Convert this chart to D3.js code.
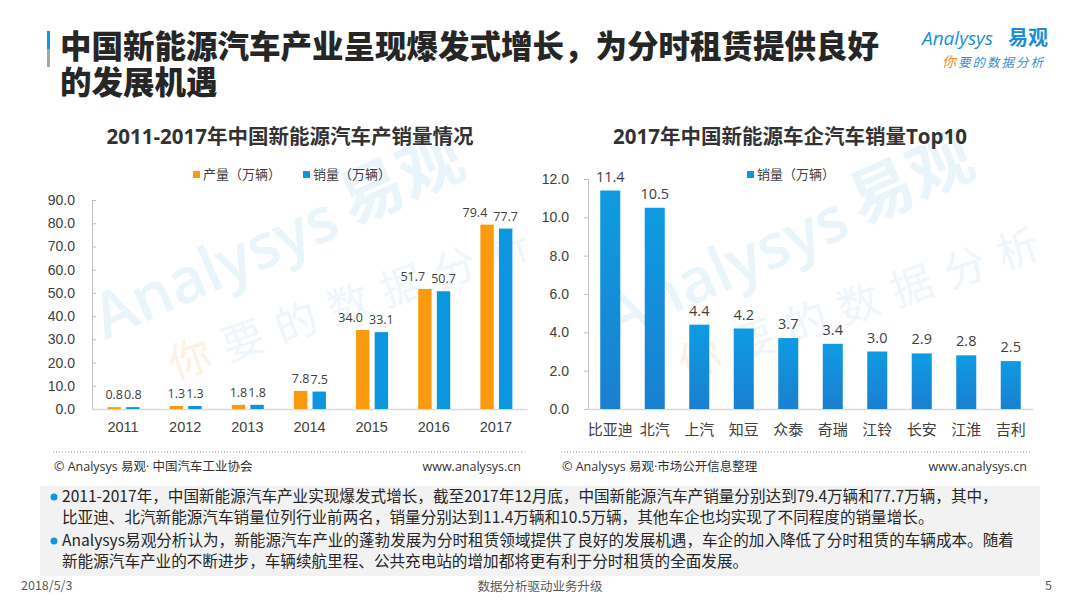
<!DOCTYPE html>
<html>
<head>
<meta charset="utf-8">
<script src="https://cdn.jsdelivr.net/npm/d3@7"></script>
<style>
  body { margin: 0; background: #fff; }
  svg { display: block; font-family: 'Open Sans', 'Noto Sans CJK SC', sans-serif; }
  .cjk { font-family: 'Noto Sans CJK SC', sans-serif; }
</style>
</head>
<body>
<div id="chart"></div>
<script>
// chart data
const years = ['2011', '2012', '2013', '2014', '2015', '2016', '2017'];
const production = [0.8, 1.3, 1.8, 7.8, 34.0, 51.7, 79.4];
const sales = [0.8, 1.3, 1.8, 7.5, 33.1, 50.7, 77.7];
const leftTicks = [0, 10, 20, 30, 40, 50, 60, 70, 80, 90];

const makers = ['比亚迪', '北汽', '上汽', '知豆', '众泰', '奇瑞', '江铃', '长安', '江淮', '吉利'];
const makerSales = [11.4, 10.5, 4.4, 4.2, 3.7, 3.4, 3.0, 2.9, 2.8, 2.5];
const rightTicks = [0, 2, 4, 6, 8, 10, 12];

const seriesNames = ['产量（万辆）', '销量（万辆）'];

const notes = [
  '2011-2017年，中国新能源汽车产业实现爆发式增长，截至2017年12月底，中国新能源汽车产销量分别达到79.4万辆和77.7万辆，其中，',
  '比亚迪、北汽新能源汽车销量位列行业前两名，销量分别达到11.4万辆和10.5万辆，其他车企也均实现了不同程度的销量增长。',
  'Analysys易观分析认为，新能源汽车产业的蓬勃发展为分时租赁领域提供了良好的发展机遇，车企的加入降低了分时租赁的车辆成本。随着',
  '新能源汽车产业的不断进步，车辆续航里程、公共充电站的增加都将更有利于分时租赁的全面发展。'
];

const W = 1080, H = 608;
const orange = '#fb9a0e', blue = '#0c96df';
const textColor = '#404040';

const svg = d3.select('#chart').append('svg')
  .attr('width', W)
  .attr('height', H);

const defs = svg.append('defs');
const grad = defs.append('linearGradient')
  .attr('id', 'barGrad')
  .attr('x1', 0).attr('y1', 0).attr('x2', 0).attr('y2', 1);
grad.append('stop').attr('offset', '0%').attr('stop-color', '#0e9be2');
grad.append('stop').attr('offset', '100%').attr('stop-color', '#1b7fd1');

// ---- watermark (behind everything) ----
function watermark(x, y) {
  const g = svg.append('g').attr('transform', `translate(${x},${y}) rotate(-24)`);
  g.append('text')
    .attr('font-size', 62).attr('font-weight', 600)
    .attr('fill', '#e9f4fb')
    .text('Analysys');
  g.append('text')
    .attr('class', 'cjk')
    .attr('x', 272).attr('y', -4)
    .attr('font-size', 64).attr('font-weight', 700)
    .attr('fill', '#e9f4fb')
    .text('易观');
  const s = svg.append('text')
    .attr('class', 'cjk')
    .attr('transform', `translate(${x + 70},${y + 40}) rotate(-19)`)
    .attr('font-size', 42).attr('letter-spacing', 14);
  s.append('tspan').attr('fill', '#fdf1e3').text('你');
  s.append('tspan').attr('fill', '#eef5fb').text('要的数据分析');
}
watermark(105, 340);
watermark(615, 340);

// ---- header ----
svg.append('rect').attr('x', 47).attr('y', 31).attr('width', 3).attr('height', 18).attr('fill', '#1296db');
svg.append('rect').attr('x', 47).attr('y', 49).attr('width', 3).attr('height', 18).attr('fill', '#a6a6a6');

svg.append('text')
  .attr('class', 'cjk')
  .attr('x', 60).attr('y', 58)
  .attr('fill', '#262626')
  .attr('font-size', 31.5)
  .attr('font-weight', 900)
  .text('中国新能源汽车产业呈现爆发式增长，为分时租赁提供良好');
svg.append('text')
  .attr('class', 'cjk')
  .attr('x', 60).attr('y', 94)
  .attr('fill', '#262626')
  .attr('font-size', 31.5)
  .attr('font-weight', 900)
  .text('的发展机遇');

// logo
const logo = svg.append('g').attr('transform', 'translate(922,0)');
logo.append('text')
  .attr('x', 0).attr('y', 45)
  .attr('font-size', 19)
  .attr('font-style', 'italic')
  .attr('fill', '#1a8fd6')
  .text('Analysys');
logo.append('text')
  .attr('class', 'cjk')
  .attr('x', 86).attr('y', 45)
  .attr('font-size', 20)
  .attr('font-weight', 700)
  .attr('fill', '#1a8fd6')
  .text('易观');
const slogan = logo.append('text')
  .attr('class', 'cjk')
  .attr('x', 20).attr('y', 67)
  .attr('font-size', 12.5)
  .attr('font-style', 'italic')
  .attr('letter-spacing', 2);
slogan.append('tspan').attr('fill', '#f08c1e').attr('font-size', 14).text('你');
slogan.append('tspan').attr('fill', '#3a8ed6').text('要的数据分析');

// ---- left chart ----
const left = {x0: 92, x1: 527, y0: 409, y1: 200};

svg.append('text')
  .attr('x', 290).attr('y', 144)
  .attr('text-anchor', 'middle')
  .attr('font-size', 20.5).attr('font-weight', 700)
  .attr('fill', '#333')
  .text('2011-2017年中国新能源汽车产销量情况');

const xL = d3.scaleBand().domain(years).range([left.x0, left.x1]);
const xSub = d3.scaleBand().domain([0, 1]).range([15.5, 47.5]).paddingInner(0.28);
const yL = d3.scaleLinear().domain([0, 90]).range([left.y0, left.y1]);

const axisYL = svg.append('g')
  .attr('transform', `translate(${left.x0},0)`)
  .call(d3.axisLeft(yL).tickValues(leftTicks).tickFormat(d3.format('.1f')).tickSize(-4).tickPadding(17));
axisYL.select('.domain').attr('stroke', '#bfbfbf');
axisYL.selectAll('.tick line').attr('stroke', '#bfbfbf');
axisYL.selectAll('text').attr('font-size', 14).attr('fill', textColor).attr('font-family', null);

const axisXL = svg.append('g')
  .attr('transform', `translate(0,${left.y0})`)
  .call(d3.axisBottom(xL).tickSize(0).tickPadding(13));
axisXL.select('.domain').attr('stroke', '#d9d9d9').attr('stroke-width', 1.5);
axisXL.selectAll('text').attr('font-size', 14.5).attr('fill', textColor).attr('font-family', null);

const leftSeries = [production, sales];
const leftColors = [orange, blue];
const labelSets = [];
leftSeries.forEach((vals, si) => {
  const g = svg.append('g');
  g.selectAll('rect')
    .data(vals)
    .enter().append('rect')
    .attr('x', (d, i) => xL(years[i]) + xSub(si))
    .attr('width', xSub.bandwidth())
    .attr('y', d => yL(d))
    .attr('height', d => yL(0) - yL(d))
    .attr('fill', leftColors[si]);
  labelSets.push(g.selectAll('text')
    .data(vals)
    .enter().append('text')
    .attr('x', (d, i) => xL(years[i]) + xSub(si) + xSub.bandwidth() / 2)
    .attr('y', d => yL(d) - 8)
    .attr('text-anchor', 'middle')
    .attr('font-size', 12.5)
    .attr('fill', textColor)
    .text(d => d.toFixed(1)));
});

// push the production label left when it would run into the sales label
const prodNodes = labelSets[0].nodes();
const salesNodes = labelSets[1].nodes();
years.forEach((yr, i) => {
  const a = prodNodes[i], b = salesNodes[i];
  const wa = a.getComputedTextLength(), wb = b.getComputedTextLength();
  const ca = +a.getAttribute('x'), cb = +b.getAttribute('x');
  const dy = Math.abs(yL(production[i]) - yL(sales[i]));
  if (dy < 12 && ca + wa / 2 > cb - wb / 2 + 1) {
    a.setAttribute('x', cb - wb / 2 - 6 - wa / 2);
  }
});

// left legend
const legL = svg.append('g').attr('transform', 'translate(193,171)');
seriesNames.forEach((name, i) => {
  const item = legL.append('g').attr('transform', `translate(${i * 110},0)`);
  item.append('rect').attr('width', 7).attr('height', 7).attr('fill', leftColors[i]);
  item.append('text')
    .attr('class', 'cjk')
    .attr('x', 10).attr('y', 8)
    .attr('font-size', 13).attr('fill', textColor)
    .text(name);
});

// ---- right chart ----
const right = {x0: 588, x1: 1033, y0: 409, y1: 179};

svg.append('text')
  .attr('x', 790).attr('y', 144)
  .attr('text-anchor', 'middle')
  .attr('font-size', 20.5).attr('font-weight', 700)
  .attr('fill', '#333')
  .text('2017年中国新能源车企汽车销量Top10');

const xR = d3.scaleBand().domain(makers).range([right.x0, right.x1]).paddingInner(0.55).paddingOuter(0.275);
const yR = d3.scaleLinear().domain([0, 12]).range([right.y0, right.y1]);

const axisYR = svg.append('g')
  .attr('transform', `translate(${right.x0},0)`)
  .call(d3.axisLeft(yR).tickValues(rightTicks).tickFormat(d3.format('.1f')).tickSize(4).tickPadding(15));
axisYR.select('.domain').attr('stroke', '#bfbfbf');
axisYR.selectAll('.tick line').attr('stroke', '#bfbfbf');
axisYR.selectAll('text').attr('font-size', 14).attr('fill', textColor).attr('font-family', null);

const axisXR = svg.append('g')
  .attr('transform', `translate(0,${right.y0})`)
  .call(d3.axisBottom(xR).tickSize(0).tickPadding(15));
axisXR.select('.domain').attr('stroke', '#d9d9d9').attr('stroke-width', 1.5);
axisXR.selectAll('text').attr('font-size', 15).attr('fill', textColor).attr('font-family', "'Noto Sans CJK SC', sans-serif");

const gR = svg.append('g');
gR.selectAll('rect')
  .data(makerSales)
  .enter().append('rect')
  .attr('x', (d, i) => xR(makers[i]))
  .attr('width', xR.bandwidth())
  .attr('y', d => yR(d))
  .attr('height', d => yR(0) - yR(d))
  .attr('fill', 'url(#barGrad)');
gR.selectAll('text')
  .data(makerSales)
  .enter().append('text')
  .attr('x', (d, i) => xR(makers[i]) + xR.bandwidth() / 2)
  .attr('y', d => yR(d) - 9)
  .attr('text-anchor', 'middle')
  .attr('font-size', 14.5)
  .attr('fill', textColor)
  .text(d => d.toFixed(1));

const legR = svg.append('g').attr('transform', 'translate(747,171)');
legR.append('rect').attr('width', 7).attr('height', 7).attr('fill', blue);
legR.append('text')
  .attr('class', 'cjk')
  .attr('x', 10).attr('y', 8)
  .attr('font-size', 13).attr('fill', textColor)
  .text(seriesNames[1]);

// ---- sources ----
const sources = [
  {x0: 53, x1: 524, text: '© Analysys 易观· 中国汽车工业协会'},
  {x0: 561, x1: 1030, text: '© Analysys 易观·市场公开信息整理'}
];
sources.forEach(s => {
  svg.append('line')
    .attr('x1', s.x0).attr('x2', s.x1)
    .attr('y1', 452).attr('y2', 452)
    .attr('stroke', '#8c8c8c')
    .attr('stroke-dasharray', '1,2');
  svg.append('text')
    .attr('x', s.x0 + 1).attr('y', 471)
    .attr('font-size', 12.5).attr('fill', '#333')
    .text(s.text);
  svg.append('text')
    .attr('x', s.x1 - 3).attr('y', 471)
    .attr('text-anchor', 'end')
    .attr('font-size', 12.5).attr('fill', '#333')
    .text('www.analysys.cn');
});

// ---- notes box ----
svg.append('rect')
  .attr('x', 40).attr('y', 486)
  .attr('width', 1000).attr('height', 90)
  .attr('fill', '#f2f2f2');

const lineY = [502, 523, 546, 567];
notes.forEach((t, i) => {
  if (i === 0 || i === 2) {
    svg.append('circle')
      .attr('cx', 54).attr('cy', lineY[i] - 5)
      .attr('r', 3.5)
      .attr('fill', '#1296db');
  }
  svg.append('text')
    .attr('class', 'cjk')
    .attr('x', 62).attr('y', lineY[i])
    .attr('font-size', 15.6)
    .attr('fill', '#262626')
    .text(t);
});

// ---- footer ----
svg.append('text')
  .attr('class', 'cjk')
  .attr('x', 21).attr('y', 590)
  .attr('font-size', 12.5).attr('fill', '#595959')
  .text('2018/5/3');
svg.append('text')
  .attr('class', 'cjk')
  .attr('x', 540).attr('y', 591)
  .attr('text-anchor', 'middle')
  .attr('font-size', 12.5).attr('fill', '#595959')
  .text('数据分析驱动业务升级');
svg.append('text')
  .attr('class', 'cjk')
  .attr('x', 1052).attr('y', 590)
  .attr('text-anchor', 'end')
  .attr('font-size', 12.5).attr('fill', '#595959')
  .text('5');
</script>
</body>
</html>
